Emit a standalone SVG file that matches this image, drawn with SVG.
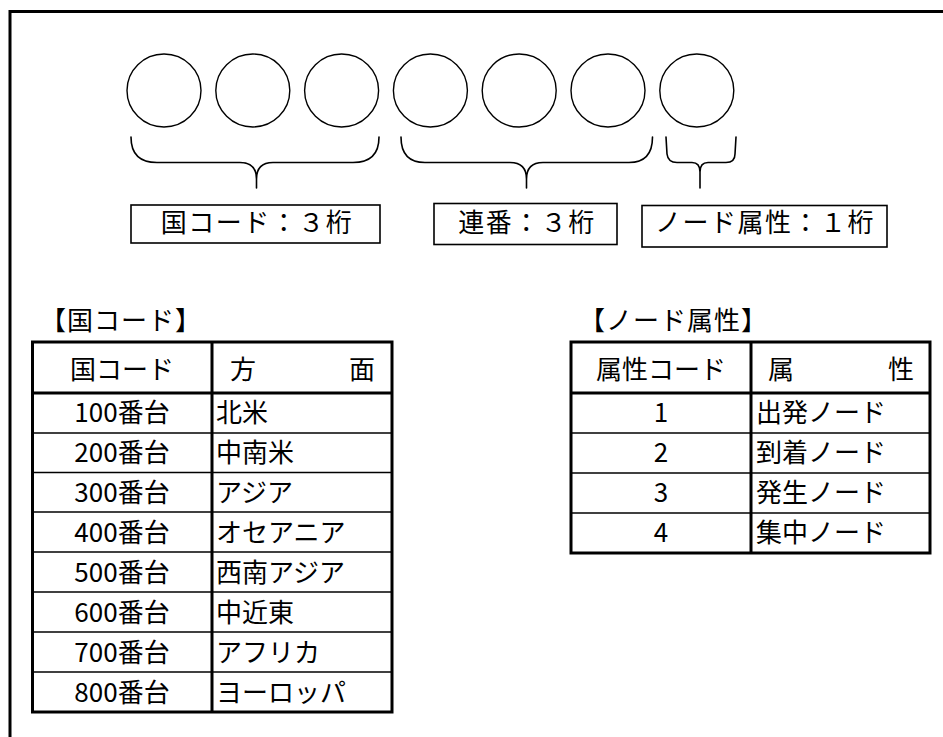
<svg xmlns="http://www.w3.org/2000/svg" width="943" height="737" viewBox="0 0 943 737">
<style>
  text { font-family: "Noto Sans CJK JP", "Noto Sans", sans-serif; fill: #000; }
  .digit { fill: #fff; stroke: #000; stroke-width: 1.4; }
  .brace { fill: none; stroke: #000; stroke-width: 1.6; stroke-linecap: round; }
  .lbox { fill: #fff; stroke: #000; stroke-width: 1.6; }
  .lbl { font-size: 26px; letter-spacing: 1.5px; text-anchor: middle; }
  .title { font-size: 26px; letter-spacing: 1px; }
  .cell { font-size: 26px; }
  .mid { text-anchor: middle; }
  .end { text-anchor: end; }
  .thick { stroke: #000; stroke-width: 3; fill: none; }
  .thin { stroke: #000; stroke-width: 1.3; fill: none; }
</style>
<rect width="943" height="737" fill="#fff"/>
<path id="frame" d="M10,737 L10,11.5 L943,11.5" fill="none" stroke="#000" stroke-width="3"/>

<g id="digits">
  <ellipse id="d1" class="digit" cx="164" cy="90.5" rx="37" ry="36.5"/>
  <ellipse id="d2" class="digit" cx="252.8" cy="90.5" rx="37" ry="36.5"/>
  <ellipse id="d3" class="digit" cx="341.6" cy="90.5" rx="37" ry="36.5"/>
  <ellipse id="d4" class="digit" cx="430.4" cy="90.5" rx="37" ry="36.5"/>
  <ellipse id="d5" class="digit" cx="519.2" cy="90.5" rx="37" ry="36.5"/>
  <ellipse id="d6" class="digit" cx="608" cy="90.5" rx="37" ry="36.5"/>
  <ellipse id="d7" class="digit" cx="696.8" cy="90.5" rx="37" ry="36.5"/>
</g>

<g id="connectors">
  <path class="brace" d="M131,137 Q131,162.5 157,162.5 L240,162.5 Q256.5,162.5 256.5,179 L256.5,188 M256.5,179 Q256.5,162.5 273,162.5 L353,162.5 Q379,162.5 379,137"/>
  <path class="brace" d="M401,137 Q401,162.5 425,162.5 L510,162.5 Q526.5,162.5 526.5,179 L526.5,188 M526.5,179 Q526.5,162.5 543,162.5 L629,162.5 Q652.5,162.5 652.5,137"/>
  <path class="brace" d="M666,137 L667,154 Q668,162.5 677,162.5 L692,162.5 Q700,162.5 700,172 L700,188 M700,172 Q700,162.5 708,162.5 L726,162.5 Q735,162.5 735,154 L736,137"/>
</g>

<g id="label-country">
  <rect class="lbox" x="131" y="205" width="249" height="38"/>
  <text class="lbl" x="257" y="232">国コード：３桁</text>
</g>
<g id="label-serial">
  <rect class="lbox" x="434" y="203.5" width="183" height="41"/>
  <text class="lbl" x="527" y="232">連番：３桁</text>
</g>
<g id="label-attr">
  <rect class="lbox" x="642" y="205.5" width="245" height="41.5"/>
  <text class="lbl" x="765" y="232">ノード属性：１桁</text>
</g>

<g id="country-table">
  <text class="title" x="40" y="330">【国コード】</text>
  <rect class="thick" x="32.5" y="342" width="359.5" height="370"/>
  <line class="thick" x1="212" y1="342" x2="212" y2="712"/>
  <line class="thick" x1="32.5" y1="393" x2="392" y2="393"/>
  <line class="thin" x1="32.5" y1="433" x2="392" y2="433"/>
  <line class="thin" x1="32.5" y1="472.5" x2="392" y2="472.5"/>
  <line class="thin" x1="32.5" y1="512" x2="392" y2="512"/>
  <line class="thin" x1="32.5" y1="552" x2="392" y2="552"/>
  <line class="thin" x1="32.5" y1="592" x2="392" y2="592"/>
  <line class="thin" x1="32.5" y1="632" x2="392" y2="632"/>
  <line class="thin" x1="32.5" y1="672" x2="392" y2="672"/>
  <text class="cell mid" x="122" y="379">国コード</text>
  <text class="cell" x="230" y="379">方</text>
  <text class="cell end" x="375" y="379">面</text>
  <text class="cell mid" x="122" y="422">100番台</text>
  <text class="cell mid" x="122" y="462">200番台</text>
  <text class="cell mid" x="122" y="501.5">300番台</text>
  <text class="cell mid" x="122" y="541.5">400番台</text>
  <text class="cell mid" x="122" y="581.5">500番台</text>
  <text class="cell mid" x="122" y="621.5">600番台</text>
  <text class="cell mid" x="122" y="661.5">700番台</text>
  <text class="cell mid" x="122" y="701.5">800番台</text>
  <text class="cell" x="216" y="422">北米</text>
  <text class="cell" x="216" y="462">中南米</text>
  <text class="cell" x="216" y="501.5">アジア</text>
  <text class="cell" x="216" y="541.5">オセアニア</text>
  <text class="cell" x="216" y="581.5">西南アジア</text>
  <text class="cell" x="216" y="621.5">中近東</text>
  <text class="cell" x="216" y="661.5">アフリカ</text>
  <text class="cell" x="216" y="701.5">ヨーロッパ</text>
</g>

<g id="attr-table">
  <text class="title" x="579" y="330">【ノード属性】</text>
  <rect class="thick" x="571" y="342" width="359" height="211"/>
  <line class="thick" x1="751" y1="342" x2="751" y2="553"/>
  <line class="thick" x1="571" y1="393" x2="930" y2="393"/>
  <line class="thin" x1="571" y1="433" x2="930" y2="433"/>
  <line class="thin" x1="571" y1="473" x2="930" y2="473"/>
  <line class="thin" x1="571" y1="513" x2="930" y2="513"/>
  <text class="cell mid" x="661" y="379">属性コード</text>
  <text class="cell" x="768" y="379">属</text>
  <text class="cell end" x="914" y="379">性</text>
  <text class="cell mid" x="661" y="422">1</text>
  <text class="cell mid" x="661" y="462">2</text>
  <text class="cell mid" x="661" y="502">3</text>
  <text class="cell mid" x="661" y="542">4</text>
  <text class="cell" x="756" y="422">出発ノード</text>
  <text class="cell" x="756" y="462">到着ノード</text>
  <text class="cell" x="756" y="502">発生ノード</text>
  <text class="cell" x="756" y="542">集中ノード</text>
</g>
</svg>
